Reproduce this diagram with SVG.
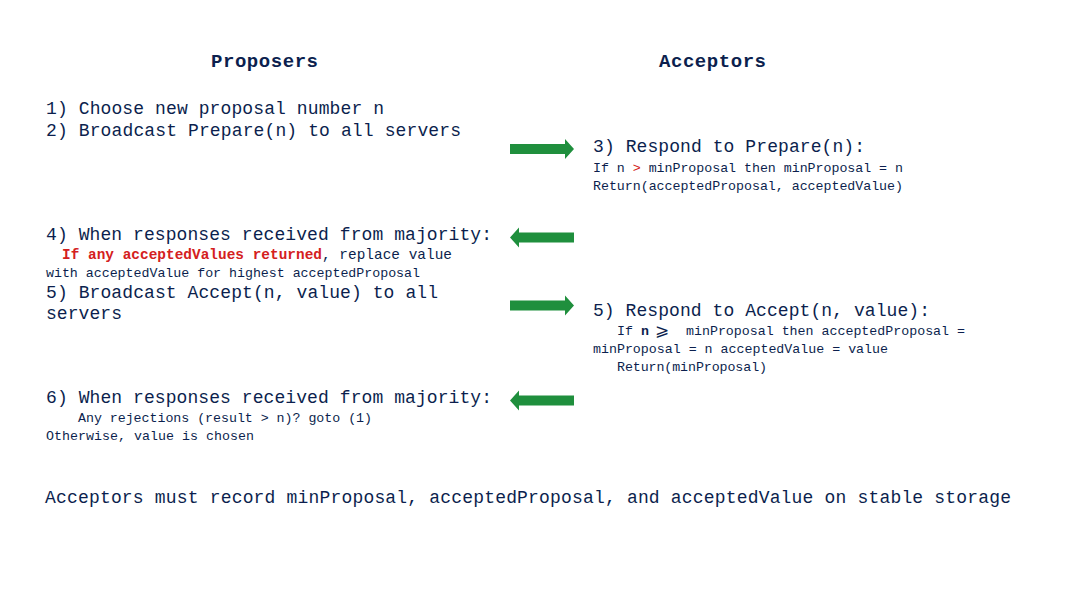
<svg xmlns="http://www.w3.org/2000/svg" width="1073" height="601" viewBox="0 0 1073 601">
<style>
.t{font-family:"Liberation Mono","DejaVu Sans Mono",monospace;fill:#0c1f4e;}
.h{font-size:19px;font-weight:bold;}
.b{font-size:18px;}
.s{font-size:13.3px;}
.m{font-size:14.4px;}
.r{fill:#d42020;font-weight:bold;}
.g{fill:#1f8f3d;}
</style>
<defs>
<path id="ar" d="M0,-5 H55 V-10 L64,0 L55,10 V5 H0 Z"/>
</defs>
<rect width="1073" height="601" fill="#ffffff"/>
<g id="headers">
<text class="t h" x="211" y="67" textLength="107" lengthAdjust="spacing">Proposers</text>
<text class="t h" x="659" y="67" textLength="107" lengthAdjust="spacing">Acceptors</text>
</g>
<g id="step1-2">
<text class="t b" x="46" y="114" textLength="338" lengthAdjust="spacing">1) Choose new proposal number n</text>
<text class="t b" x="46" y="136" textLength="415" lengthAdjust="spacing">2) Broadcast Prepare(n) to all servers</text>
</g>
<g id="step3">
<text class="t b" x="593" y="152" textLength="272" lengthAdjust="spacing">3) Respond to Prepare(n):</text>
<text class="t s" x="593" y="172" textLength="310" lengthAdjust="spacing">If n <tspan fill="#d42020">&gt;</tspan> minProposal then minProposal = n</text>
<text class="t s" x="593" y="190" textLength="310" lengthAdjust="spacing">Return(acceptedProposal, acceptedValue)</text>
</g>
<g id="step4">
<text class="t b" x="46" y="240" textLength="446" lengthAdjust="spacing">4) When responses received from majority:</text>
<text class="t m" x="62" y="259" textLength="390" lengthAdjust="spacing"><tspan class="r">If any acceptedValues returned</tspan>, replace value</text>
<text class="t s" x="46" y="277" textLength="374" lengthAdjust="spacing">with acceptedValue for highest acceptedProposal</text>
</g>
<g id="step5">
<text class="t b" x="46" y="298" textLength="392" lengthAdjust="spacing">5) Broadcast Accept(n, value) to all</text>
<text class="t b" x="46" y="319" textLength="76" lengthAdjust="spacing">servers</text>
</g>
<g id="step5r">
<text class="t b" x="593" y="316" textLength="337" lengthAdjust="spacing">5) Respond to Accept(n, value):</text>
<text class="t s" x="617" y="335">If</text>
<text class="t s" x="641" y="335" font-weight="bold" font-size="15">n</text>
<text class="t" x="655" y="336" font-size="17">⩾</text>
<text class="t s" x="686" y="335" textLength="279" lengthAdjust="spacing">minProposal then acceptedProposal =</text>
<text class="t s" x="593" y="353" textLength="295" lengthAdjust="spacing">minProposal = n acceptedValue = value</text>
<text class="t s" x="617" y="371" textLength="150" lengthAdjust="spacing">Return(minProposal)</text>
</g>
<g id="step6">
<text class="t b" x="46" y="403" textLength="446" lengthAdjust="spacing">6) When responses received from majority:</text>
<text class="t s" x="78" y="422" textLength="294" lengthAdjust="spacing">Any rejections (result &gt; n)? goto (1)</text>
<text class="t s" x="46" y="440" textLength="208" lengthAdjust="spacing">Otherwise, value is chosen</text>
</g>
<g id="footer">
<text class="t b" x="45" y="503" textLength="966" lengthAdjust="spacing">Acceptors must record minProposal, acceptedProposal, and acceptedValue on stable storage</text>
</g>
<g id="connectors">
<use href="#ar" class="g" transform="translate(510,149)"/>
<use href="#ar" class="g" transform="translate(574,237.5) scale(-1,1)"/>
<use href="#ar" class="g" transform="translate(510,305.5)"/>
<use href="#ar" class="g" transform="translate(574,400.5) scale(-1,1)"/>
</g>
</svg>
